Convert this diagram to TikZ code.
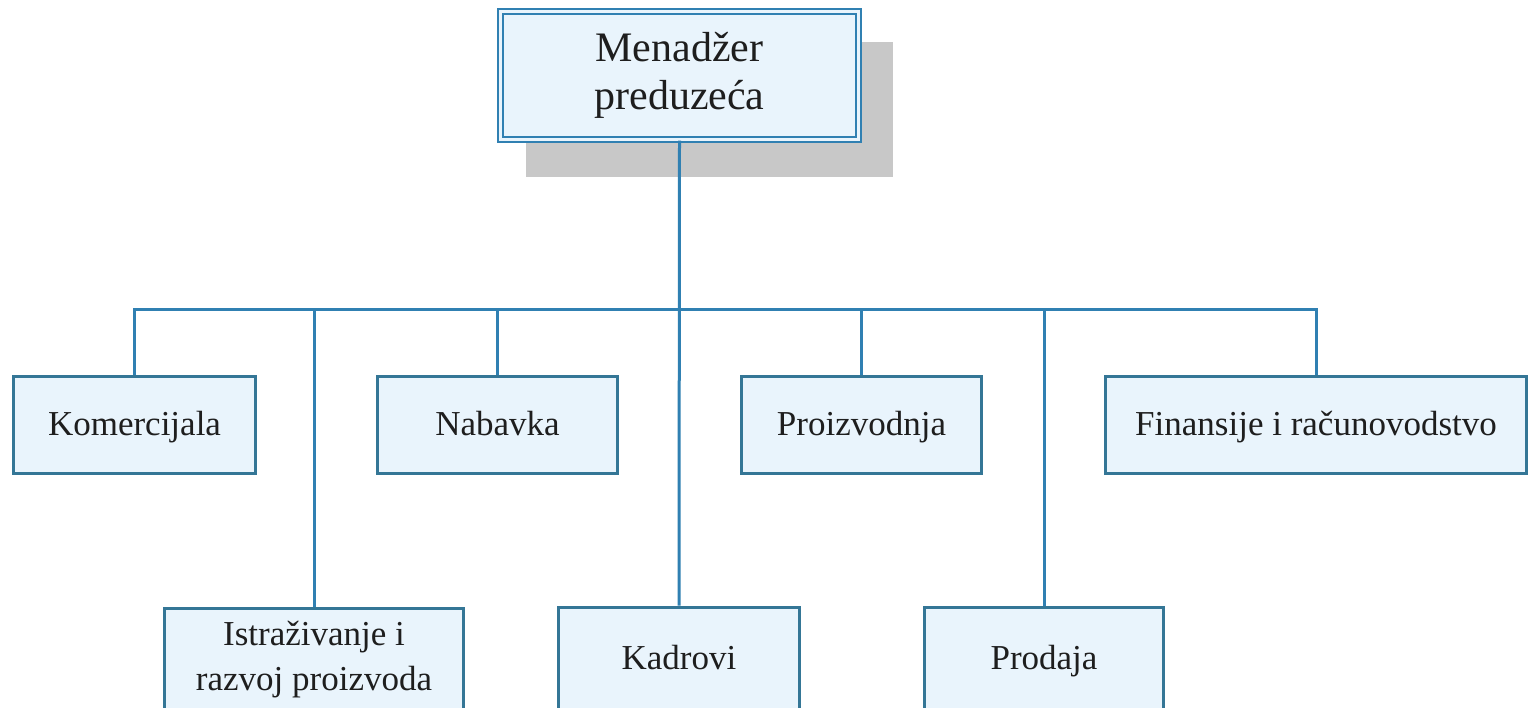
\documentclass[tikz,border=0pt]{standalone}
\usepackage{fontspec}
\setmainfont{Liberation Serif}
\definecolor{wire}{RGB}{48,128,178}
\definecolor{edge}{RGB}{52,118,150}
\definecolor{boxfill}{RGB}{233,244,252}
\definecolor{shadowgray}{RGB}{200,200,200}
\definecolor{ink}{RGB}{30,30,30}
\tikzset{
  unit/.style={draw=edge, line width=3pt, fill=boxfill, inner sep=0pt,
    minimum height=97pt, align=center, text=ink, font=\fontsize{35}{45}\selectfont},
  oneline/.style={text height=26pt, text depth=6pt},
  headbox/.style={draw=wire, line width=2pt, double=boxfill, double distance=2.5pt,
    fill=boxfill, inner sep=0pt, minimum width=358pt, minimum height=128pt,
    align=center, text=ink, font=\fontsize{42}{48}\selectfont},
  link/.style={draw=wire, line width=3pt}
}
\begin{document}
\begin{tikzpicture}[x=1pt,y=-1pt]
  \useasboundingbox (0,0) rectangle (1534,707);
  \clip (0,0) rectangle (1534,707);
  \fill[white] (0,0) rectangle (1534,707);

  % drop shadow behind the head box
  \fill[shadowgray] (526,42) rectangle (893,177);
  \node[headbox] (head) at (679.5,75.5) {Menadžer\\preduzeća};

  % first row of departments
  \node[unit, oneline, minimum width=242pt] (kom) at (134.5,425) {Komercijala};
  \node[unit, oneline, minimum width=240pt] (nab) at (497.5,425) {Nabavka};
  \node[unit, oneline, minimum width=240pt] (pro) at (861.5,425) {Proizvodnja};
  \node[unit, oneline, minimum width=421pt] (fin) at (1316,425) {Finansije i računovodstvo};

  % second row of departments
  \node[unit, minimum width=299pt, minimum height=104pt] (ist) at (314,660) {Istraživanje i\\razvoj proizvoda};
  \node[unit, oneline, minimum width=241pt, minimum height=104pt] (kad) at (679,659) {Kadrovi};
  \node[unit, oneline, minimum width=239pt, minimum height=104pt] (prd) at (1044,659) {Prodaja};

  % distribution bus
  \coordinate (bus) at (0,309);
  \draw[link, line join=miter] (kom.north) -- (kom.north |- bus) -- (fin.north |- bus) -- (fin.north);
  \draw[link] (head.south) -- (kad.north);
  \draw[link] (ist.north |- bus) -- (ist.north);
  \draw[link] (nab.north |- bus) -- (nab.north);
  \draw[link] (pro.north |- bus) -- (pro.north);
  \draw[link] (prd.north |- bus) -- (prd.north);
\end{tikzpicture}
\end{document}
